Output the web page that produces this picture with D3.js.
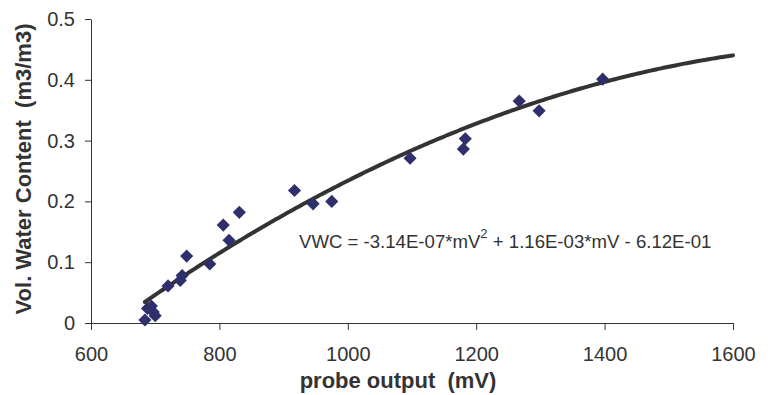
<!DOCTYPE html>
<html>
<head>
<meta charset="utf-8">
<script src="https://cdn.jsdelivr.net/npm/d3@7"></script>
<style>
  body { margin: 0; background: #fff; }
  text { font-family: "Liberation Sans", Arial, sans-serif; fill: #333; white-space: pre; }
</style>
</head>
<body>
<div id="chart"></div>
<script>
// probe output (mV) and measured VWC
var probe_mv = [684, 688, 694, 700, 697, 720, 739, 742, 749, 785, 806, 815, 831,
                917, 946, 975, 1097, 1180, 1183, 1267, 1298, 1397];
var vwc = [0.005, 0.024, 0.028, 0.012, 0.018, 0.061, 0.070, 0.078, 0.110, 0.097, 0.161, 0.136, 0.182,
           0.218, 0.196, 0.200, 0.271, 0.286, 0.303, 0.365, 0.349, 0.401];
// trendline coefficients shown on chart: a*mV^2 + b*mV + c
var trend_coef = [-3.14e-7, 1.16e-3, -6.12e-1];
var trend_range = [684, 1600];
var x_ticks = [600, 800, 1000, 1200, 1400, 1600];
var y_ticks = [0, 0.1, 0.2, 0.3, 0.4, 0.5];

var svg_width = 773, svg_height = 395;
var margin = { top: 19, left: 91 };
var width = 733 - margin.left;
var height = 323 - margin.top;

var svg = d3.select("#chart").append("svg")
  .attr("width", svg_width)
  .attr("height", svg_height);

var g = svg.append("g").attr("transform", `translate(${margin.left}, ${margin.top})`);

var x_scale = d3.scaleLinear().domain([600, 1600]).range([0, width]);
var y_scale = d3.scaleLinear().domain([0, 0.5]).range([height, 0]);

var x_axis = d3.axisBottom(x_scale).tickValues(x_ticks).tickSize(7).tickSizeOuter(0)
  .tickFormat(d3.format("d"));
var y_axis = d3.axisLeft(y_scale).tickValues(y_ticks).tickSize(6).tickSizeOuter(0)
  .tickFormat(function(d) { return d === 0 ? "0" : d3.format(".1f")(d); });

var xg = g.append("g").attr("transform", `translate(0, ${height})`).call(x_axis);
var yg = g.append("g").call(y_axis);

[xg, yg].forEach(function(a) {
  a.select(".domain").attr("stroke", "#333");
  a.selectAll(".tick line").attr("stroke", "#333");
  a.selectAll(".tick text").style("font-size", "20px").attr("fill", "#333");
});
xg.selectAll(".tick text").attr("y", 24);
yg.selectAll(".tick text").attr("x", -16);

// trendline
var trend_pts = d3.range(trend_range[0], trend_range[1] + 1, 4).map(function(v) {
  return { x: v, y: trend_coef[0] * v * v + trend_coef[1] * v + trend_coef[2] };
});
var line = d3.line()
  .x(function(d) { return x_scale(d.x); })
  .y(function(d) { return y_scale(d.y); })
  .curve(d3.curveBasis);

g.append("path")
  .datum(trend_pts)
  .attr("fill", "none")
  .attr("stroke", "#333333")
  .attr("stroke-width", 4)
  .attr("stroke-linecap", "round")
  .attr("d", line);

// points
var diamond = d3.symbol().type(d3.symbolDiamond2).size(110);
g.selectAll(".pt")
  .data(probe_mv)
  .enter().append("path")
  .attr("class", "pt")
  .attr("d", diamond)
  .attr("transform", function(d, i) { return `translate(${x_scale(d)}, ${y_scale(vwc[i])})`; })
  .attr("fill", "#2f2f6b");

// equation text
var eq = svg.append("text")
  .attr("x", 299)
  .attr("y", 248)
  .style("font-size", "18.6px");
eq.append("tspan").text("VWC = -3.14E-07*mV");
eq.append("tspan").attr("dy", -10).style("font-size", "13px").text("2");
eq.append("tspan").attr("dy", 10).text(" + 1.16E-03*mV - 6.12E-01");

// axis titles
svg.append("text")
  .attr("x", 398)
  .attr("y", 388)
  .attr("text-anchor", "middle")
  .style("font-size", "22px")
  .style("font-weight", "bold")
  .text("probe output  (mV)");

svg.append("text")
  .attr("transform", "translate(31, 169) rotate(-90)")
  .attr("text-anchor", "middle")
  .style("font-size", "22px")
  .style("font-weight", "bold")
  .text("Vol. Water Content  (m3/m3)");
</script>
</body>
</html>
